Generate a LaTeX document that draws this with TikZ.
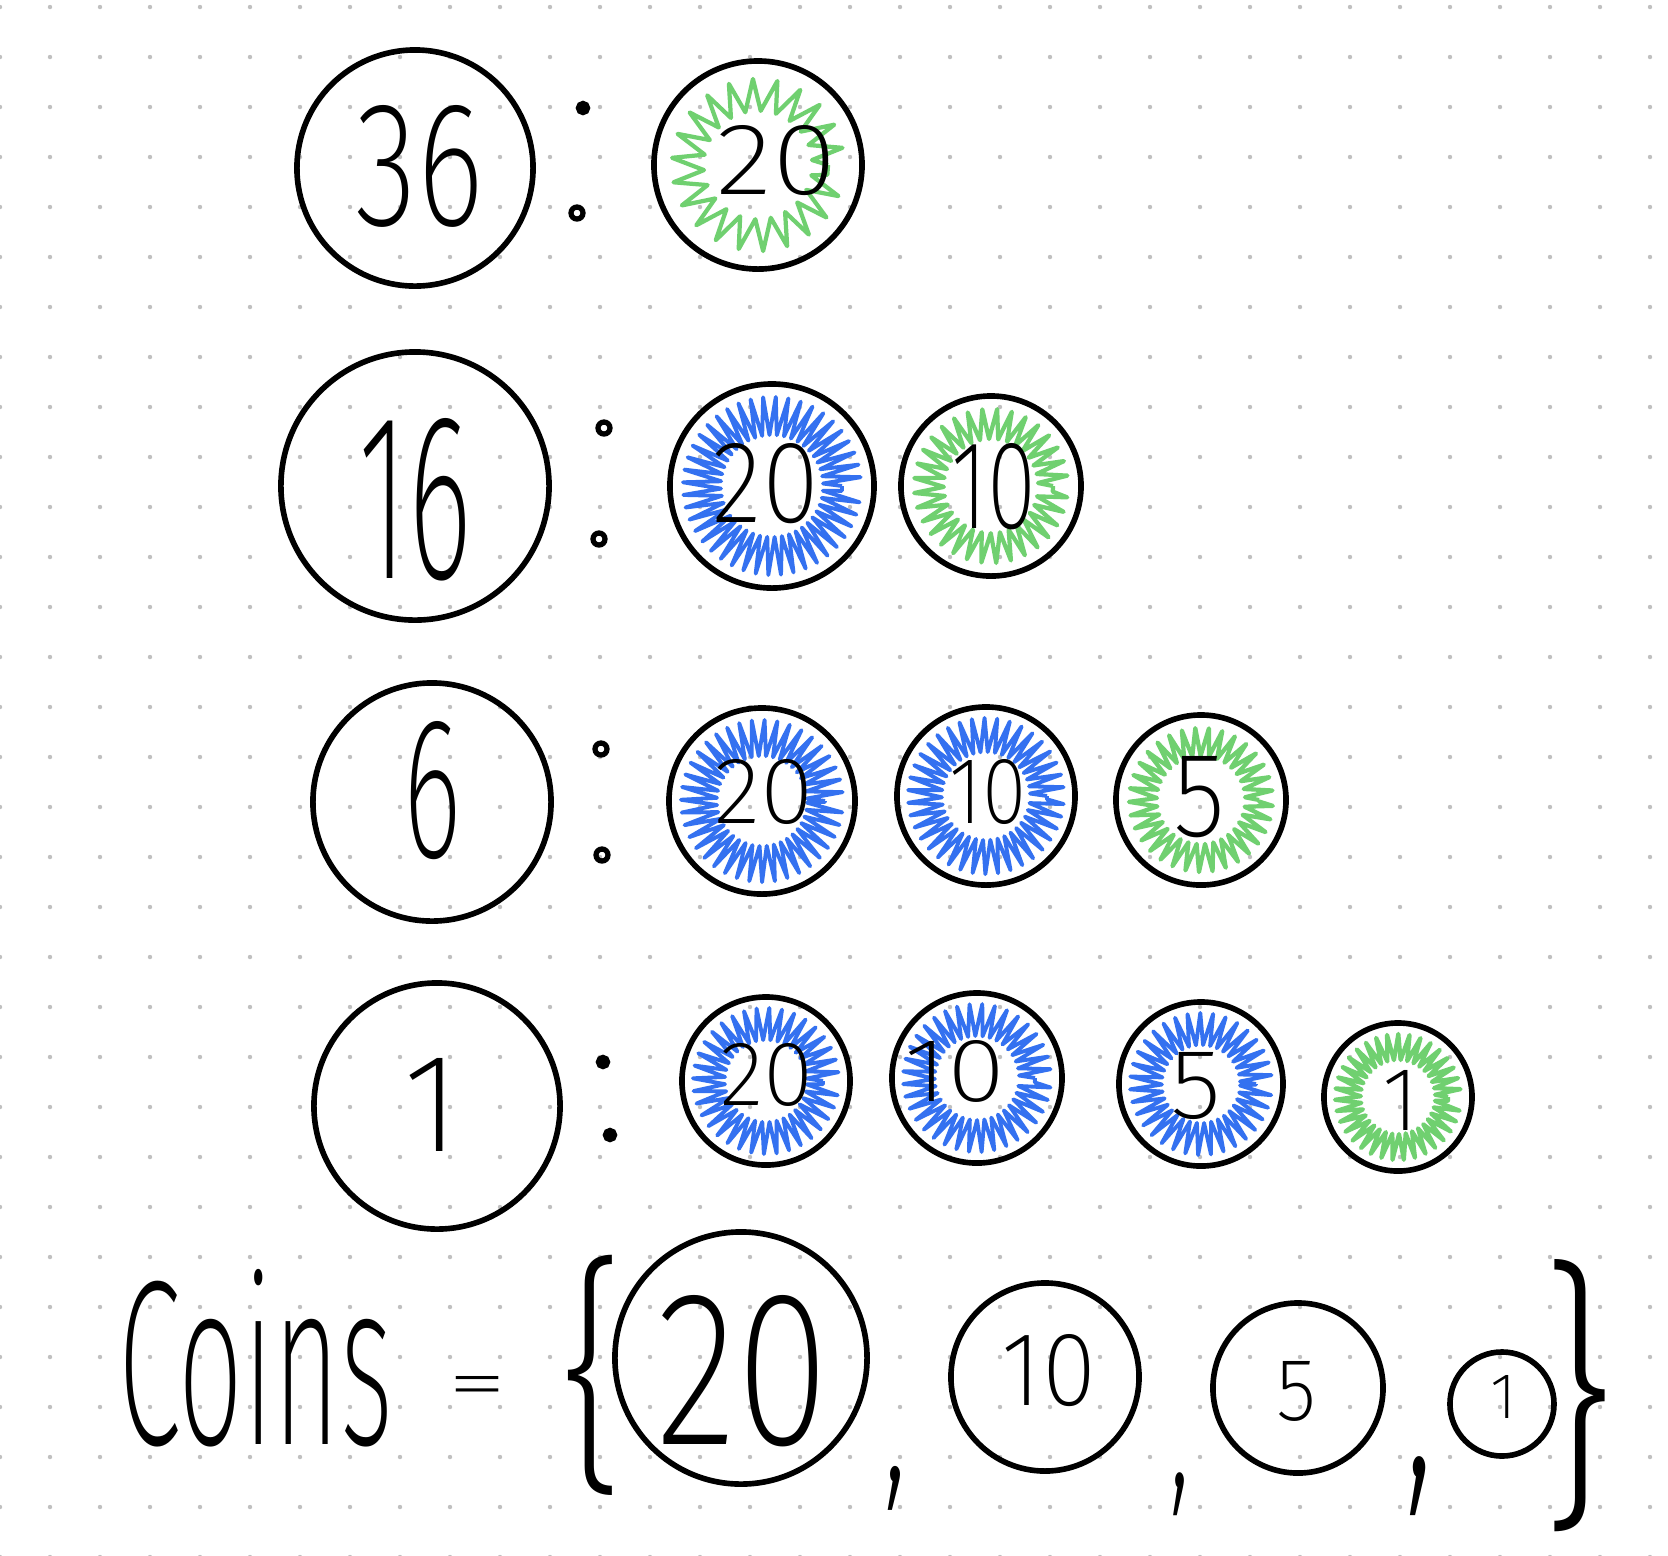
\documentclass[tikz,border=0pt]{standalone}
\usepackage{fontspec}
\usetikzlibrary{decorations.pathmorphing}
\IfFontExistsTF{Fira Sans ExtraLight}{\newfontfamily\hand{Fira Sans ExtraLight}}{%
  \IfFontExistsTF{Fira Sans Light}{\newfontfamily\hand{Fira Sans Light}}{\newfontfamily\hand{Fira Sans}}}
\definecolor{scribgreen}{RGB}{112,208,112}
\definecolor{scribblue}{RGB}{52,113,240}
\definecolor{griddot}{RGB}{192,192,192}
\newcommand\hw[3]{\resizebox{#1}{#2}{\hand #3}}
\newcommand\hwt[3]{\resizebox*{#1}{#2}{\hand #3}}
\newcommand\scrib[5]{\draw[#1, decorate, decoration={zigzag, amplitude=#4, segment length=#5}] (#2.center) circle[radius=#3];}
\begin{document}
\begin{tikzpicture}[x=0.01cm,y=-0.01cm,
  ring/.style={circle, draw, line width=1.6pt, inner sep=0pt, minimum size=#1},
  txt/.style={inner sep=0pt, outer sep=0pt},
  colondot/.style={circle, draw, fill, line width=1pt, inner sep=0pt, minimum size=0.11cm},
  colonring/.style={circle, draw, line width=1.5pt, inner sep=0pt, minimum size=0.12cm},
  gs/.style={scribgreen, line width=1.2pt, line join=round},
  bs/.style={scribblue, line width=1.1pt, line join=round}]
\useasboundingbox (0,0) rectangle (1668,1556);
\fill[white] (0,0) rectangle (1668,1556);
\begin{scope}
\clip (0,0) rectangle (1668,1556);
\foreach \i in {0,...,33}{\foreach \j in {0,...,31}{\fill[griddot] ({\i*50},{7+\j*50}) circle[radius=0.022cm];}}
\end{scope}

% ---- row 1
\node[ring=2.36cm] (n36) at (415,168) {};
\node[txt] (t36) at (420,166) {\hw{1.28cm}{1.20cm}{36}};
\node[colondot] (d1a) at (583,108) {};
\node[colonring] (d1b) at (577,213) {};
\node[ring=2.08cm] (c1) at (758,165) {};
\scrib{gs}{c1}{0.70cm}{0.16cm}{0.2cm}
\node[txt] (t1) at (777,161) {\hw{1.20cm}{0.69cm}{20}};

% ---- row 2
\node[ring=2.68cm] (n16) at (415,486) {};
\node[txt] (t16) at (415,500) {\hw{1.13cm}{1.60cm}{16}};
\node[colonring] (d2a) at (604,428) {};
\node[colonring] (d2b) at (599,539) {};
\node[ring=2.04cm] (c2a) at (772,486) {};
\scrib{bs}{c2a}{0.70cm}{0.19cm}{0.1cm}
\node[txt] (t2a) at (766,484) {\hw{1.06cm}{0.79cm}{20}};
\node[ring=1.80cm] (c2b) at (991,486) {};
\scrib{gs}{c2b}{0.62cm}{0.15cm}{0.12cm}
\node[txt] (t2b) at (994,487) {\hw{0.85cm}{0.85cm}{10}};

% ---- row 3
\node[ring=2.38cm] (n6) at (432,802) {};
\node[txt] (t6) at (433,791) {\hw{0.58cm}{1.36cm}{6}};
\node[colonring] (d3a) at (601,749) {};
\node[colonring] (d3b) at (602,855) {};
\node[ring=1.86cm] (c3a) at (762,801) {};
\scrib{bs}{c3a}{0.63cm}{0.18cm}{0.1cm}
\node[txt] (t3a) at (764,792) {\hw{0.99cm}{0.64cm}{20}};
\node[ring=1.78cm] (c3b) at (986,796) {};
\scrib{bs}{c3b}{0.61cm}{0.17cm}{0.1cm}
\node[txt] (t3b) at (988,792) {\hw{0.77cm}{0.64cm}{10}};
\node[ring=1.70cm] (c3c) at (1201,800) {};
\scrib{gs}{c3c}{0.58cm}{0.14cm}{0.11cm}
\node[txt] (t3c) at (1200,797) {\hw{0.52cm}{0.80cm}{5}};

% ---- row 4
\node[ring=2.46cm] (n1) at (437,1106) {};
\node[txt] (t1n) at (432,1105) {\hw{!}{0.93cm}{1}};
\node[colondot] (d4a) at (603,1062) {};
\node[colondot] (d4b) at (610,1135) {};
\node[ring=1.68cm] (c4a) at (766,1081) {};
\scrib{bs}{c4a}{0.57cm}{0.16cm}{0.1cm}
\node[txt] (t4a) at (767,1075) {\hw{0.93cm}{0.62cm}{20}};
\node[ring=1.70cm] (c4b) at (977,1078) {};
\scrib{bs}{c4b}{0.58cm}{0.16cm}{0.1cm}
\node[txt] (t4b) at (955,1071) {\hw{1.01cm}{0.61cm}{10}};
\node[ring=1.64cm] (c4c) at (1201,1084) {};
\scrib{bs}{c4c}{0.55cm}{0.16cm}{0.1cm}
\node[txt] (t4c) at (1196,1086) {\hw{0.51cm}{0.66cm}{5}};
\node[ring=1.48cm] (c4d) at (1398,1097) {};
\scrib{gs}{c4d}{0.50cm}{0.13cm}{0.09cm}
\node[txt] (t4d) at (1401,1100) {\hw{!}{0.60cm}{1}};

% ---- bottom line
\node[txt, anchor=base west] (coins) at (118,1444) {\hw{2.75cm}{1.75cm}{Coins}};
\node[txt] (eq) at (478,1392) {\hw{0.60cm}{0.32cm}{=}};
\node[txt] (lb) at (593,1375) {\hwt{0.70cm}{2.40cm}{\{}};
\node[ring=2.52cm] (b20) at (741,1358) {};
\node[txt] (tb20) at (743,1371) {\hw{1.73cm}{1.49cm}{20}};
\node[txt] (cm1) at (896,1488) {\hwt{0.24cm}{0.44cm}{,}};
\node[ring=1.88cm] (b10) at (1045,1377) {};
\node[txt] (tb10) at (1049,1371) {\hw{0.94cm}{0.71cm}{10}};
\node[txt] (cm2) at (1180,1494) {\hwt{0.21cm}{0.43cm}{,}};
\node[ring=1.70cm] (b5) at (1298,1388) {};
\node[txt] (tb5) at (1297,1391) {\hw{0.40cm}{0.59cm}{5}};
\node[txt] (cm3) at (1420,1486) {\hwt{0.30cm}{0.59cm}{,}};
\node[ring=1.04cm] (b1) at (1502,1404) {};
\node[txt] (tb1) at (1504,1397) {\hw{!}{0.43cm}{1}};
\node[txt] (rb) at (1578,1396) {\hwt{0.80cm}{2.72cm}{\}}};
\end{tikzpicture}
\end{document}
